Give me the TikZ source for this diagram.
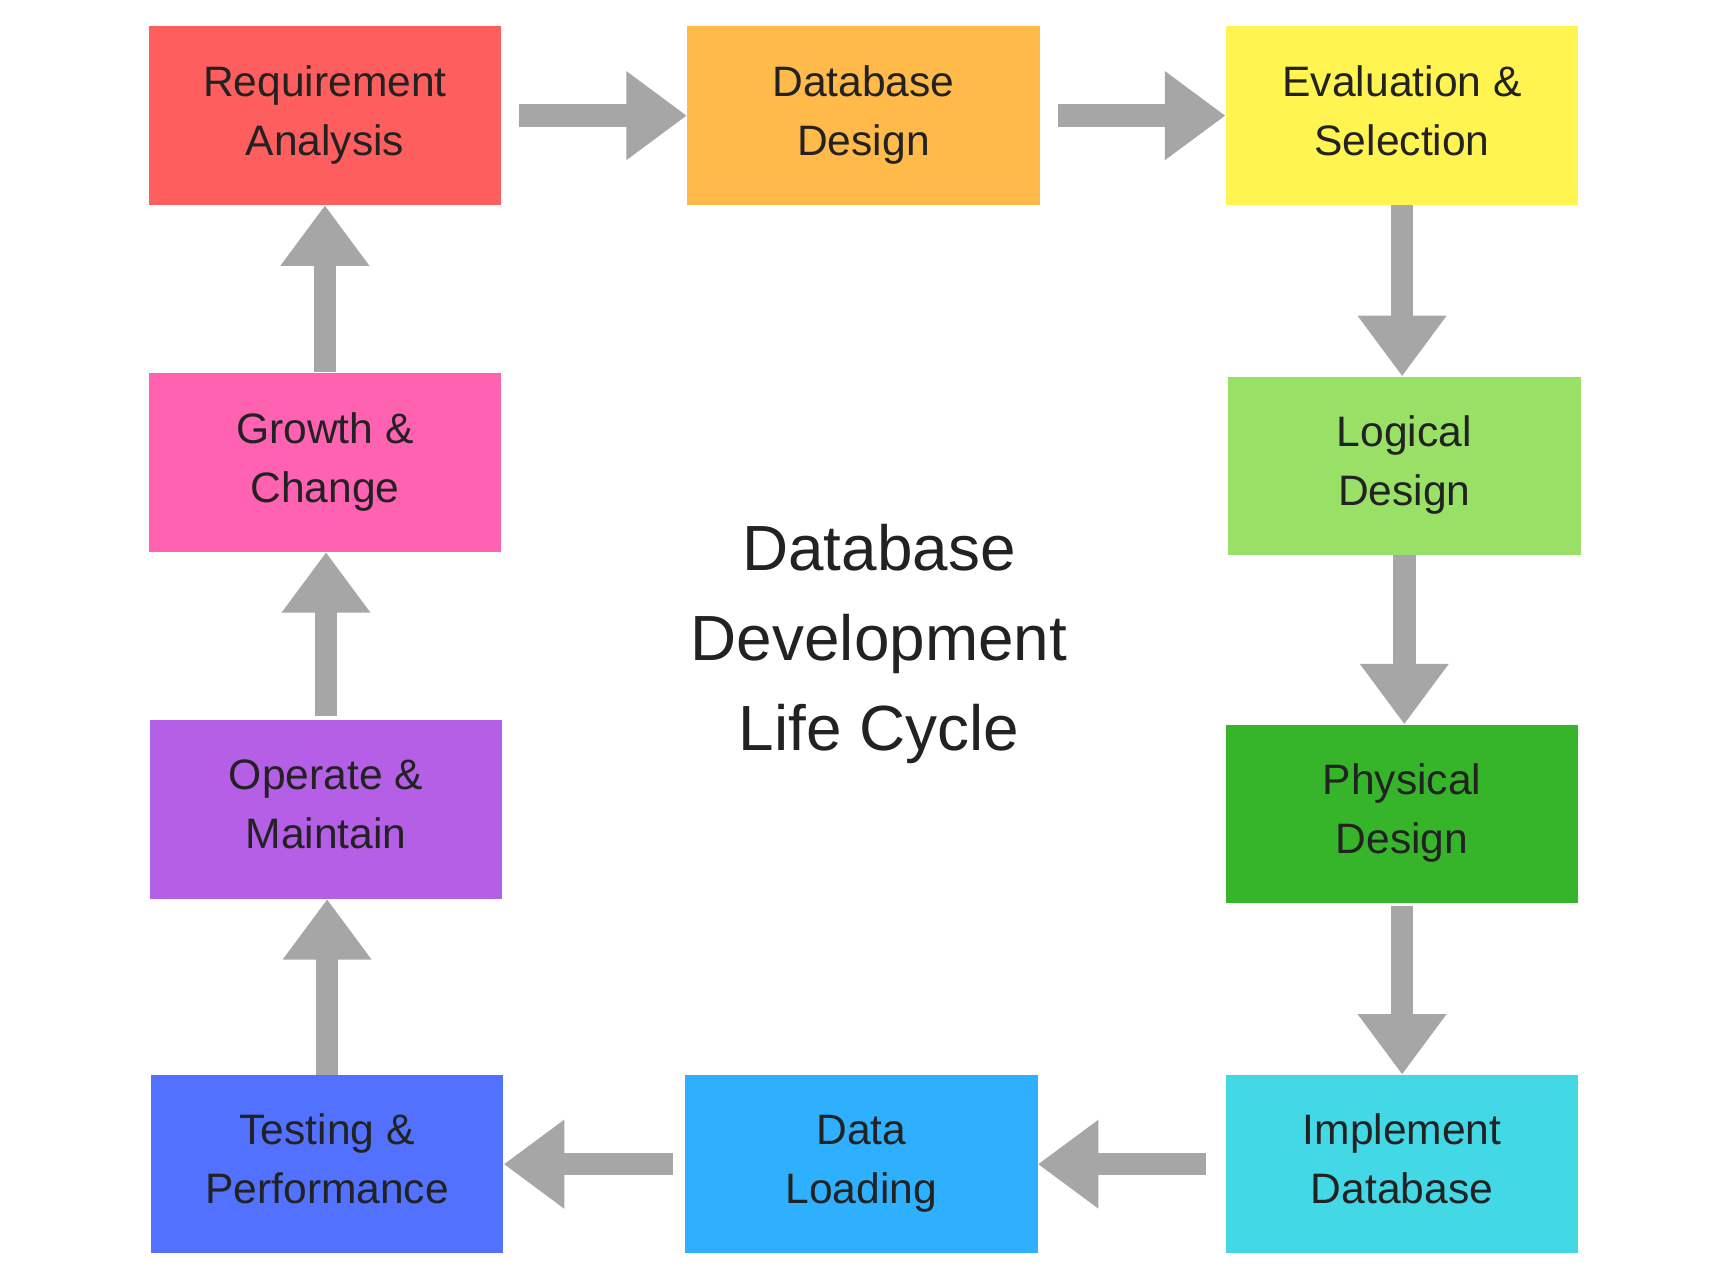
\documentclass[tikz,border=0pt]{standalone}
\usepackage{fontspec}
\setmainfont{Liberation Sans}
\usetikzlibrary{arrows.meta,positioning}
\usepackage{xcolor}

\definecolor{reqred}{HTML}{FF5E5E}
\definecolor{dbdorange}{HTML}{FFBA4A}
\definecolor{evalyellow}{HTML}{FFF450}
\definecolor{logigreen}{HTML}{98E066}
\definecolor{physgreen}{HTML}{36B52A}
\definecolor{implcyan}{HTML}{42D8E6}
\definecolor{loadblue}{HTML}{2EB0FF}
\definecolor{testblue}{HTML}{5271FF}
\definecolor{operpurple}{HTML}{B45FE6}
\definecolor{growpink}{HTML}{FF62B0}
\definecolor{flechagray}{HTML}{A6A6A6}
\definecolor{textodark}{HTML}{222222}

\begin{document}
\begin{tikzpicture}[x=0.02cm,y=-0.02cm,
  fase/.style={minimum width=6.4cm,minimum height=3.24cm,inner sep=0pt,
    align=center,text=textodark,font=\fontsize{22}{30.6}\selectfont,
    execute at begin node=\rule{0pt}{27pt},
    execute at end node=\rule[-5.4pt]{0pt}{0pt}},
  flecha/.style={draw=flechagray,line width=0.41cm,
    -{Triangle[length=1.1cm,width=1.54cm]}}]
  % Lienzo
  \useasboundingbox (0,0) rectangle (1568,1168);

  % Fila superior
  \node[fase,fill=reqred] (req) at (295,105) {Requirement\\Analysis};
  \node[fase,fill=dbdorange] (dbd) at (784,105) {Database\\Design};
  \node[fase,fill=evalyellow] (eval) at (1273,105) {Evaluation \&\\Selection};

  % Columna derecha
  \node[fase,fill=logigreen] (logi) at (1275,423) {Logical\\Design};
  \node[fase,fill=physgreen] (phys) at (1273,739) {Physical\\Design};

  % Fila inferior
  \node[fase,fill=implcyan] (impl) at (1273,1057) {Implement\\Database};
  \node[fase,fill=loadblue] (load) at (782,1057) {Data\\Loading};
  \node[fase,fill=testblue] (test) at (297,1057) {Testing \&\\Performance};

  % Columna izquierda
  \node[fase,fill=operpurple] (oper) at (296,735) {Operate \&\\Maintain};
  \node[fase,fill=growpink] (grow) at (295,420) {Growth \&\\Change};

  % Titulo central
  \node[align=center,text=textodark,font=\fontsize{33}{46.5}\selectfont] (titulo)
    at (798,585) {Database\\Development\\Life Cycle};

  % Flechas horizontales
  \foreach \a/\b/\s in {req/dbd/0.32cm,dbd/eval/0.32cm}
    \draw[flecha,shorten <=\s] (\a.east) -- (\a.east -| \b.west);
  \foreach \a/\b/\s in {impl/load/0.36cm,load/test/0.22cm}
    \draw[flecha,shorten <=\s] (\a.west) -- (\a.west -| \b.east);

  % Flechas verticales
  \foreach \a/\b/\s in {eval/logi/0cm,logi/phys/0cm,phys/impl/0.04cm}
    \draw[flecha,shorten <=\s] (\a.south) -- (\a.south |- \b.north);
  \foreach \a/\b/\s in {test/oper/0cm,oper/grow/0.08cm,grow/req/0.02cm}
    \draw[flecha,shorten <=\s] (\a.north) -- (\a.north |- \b.south);
\end{tikzpicture}
\end{document}
